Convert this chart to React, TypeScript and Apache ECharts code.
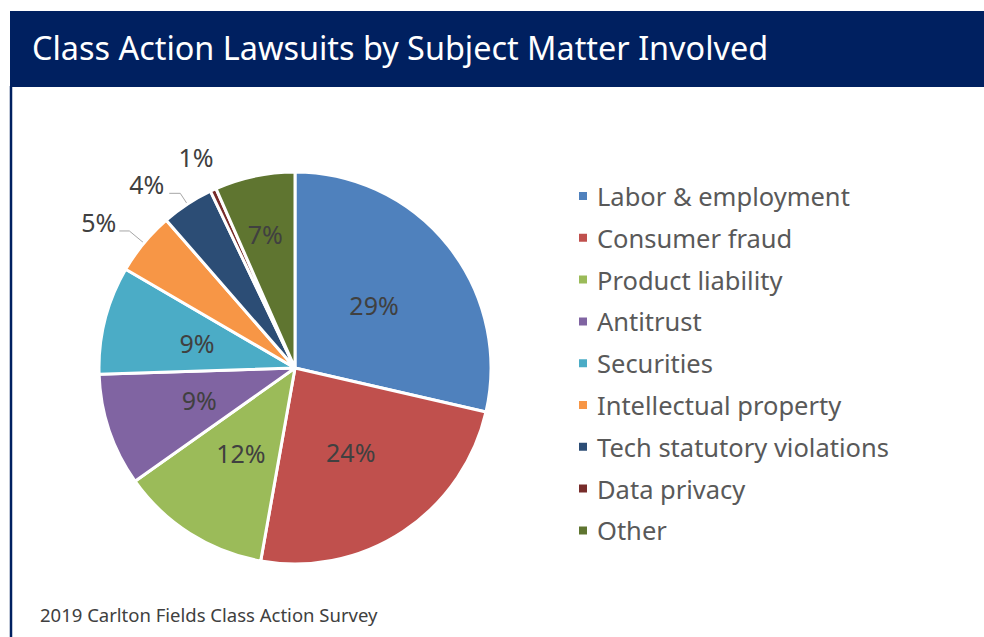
import React, { useEffect, useRef } from "react";
import * as echarts from "echarts";

const categories = [
  "Labor & employment",
  "Consumer fraud",
  "Product liability",
  "Antitrust",
  "Securities",
  "Intellectual property",
  "Tech statutory violations",
  "Data privacy",
  "Other",
];
// shares (labels show the rounded percentages)
const values = [28.6, 24.2, 12.4, 9.3, 8.9, 5.2, 4.3, 0.5, 6.6];
const colors = [
  "#4F81BD",
  "#C0504D",
  "#9BBB59",
  "#8064A2",
  "#4BACC6",
  "#F79646",
  "#2C4D75",
  "#772C2A",
  "#5F7530",
];
const titleText = "Class Action Lawsuits by Subject Matter Involved";
const sourceText = "2019 Carlton Fields Class Action Survey";

export default function App() {
  const ref = useRef<HTMLDivElement>(null);
  useEffect(() => {
    if (!ref.current) return;
    const chart = echarts.init(ref.current, null, { renderer: "svg" });
    const font = "'Noto Sans', sans-serif";
    const leader = { color: "#A6A6A6", width: 1 };
    const data = categories.map((name, i) => {
      const item: any = { name, value: values[i], itemStyle: { color: colors[i] } };
      if (name === "Intellectual property") {
        item.label = { position: "outside", distanceToLabelLine: 3, offset: [0, -9] };
        item.labelLine = { show: true, length: 19, length2: 10, lineStyle: leader };
      } else if (name === "Tech statutory violations") {
        item.label = { position: "outside", distanceToLabelLine: 5, offset: [0, -9] };
        item.labelLine = { show: true, length: 13, length2: 11, lineStyle: leader };
      } else if (name === "Data privacy") {
        item.label = { position: "outside", distanceToLabelLine: -14, offset: [0, -3] };
        item.labelLine = { show: false, length: 33, length2: 0 };
      } else if (name === "Other") {
        item.label = { offset: [-9, -35] };
      }
      return item;
    });
    chart.setOption({
      animation: false,
      backgroundColor: "#ffffff",
      graphic: [
        {
          type: "rect",
          shape: { x: 10, y: 11, width: 974, height: 76 },
          style: { fill: "#002060" },
          silent: true,
        },
        {
          type: "line",
          shape: { x1: 11, y1: 86, x2: 11, y2: 637 },
          style: { stroke: "#002060", lineWidth: 2.5 },
          silent: true,
        },
        {
          type: "text",
          x: 32,
          y: 47,
          style: {
            text: titleText,
            fill: "#ffffff",
            font: `32.4px ${font}`,
            textVerticalAlign: "middle",
          },
        },
        {
          type: "text",
          x: 40,
          y: 614,
          style: {
            text: sourceText,
            fill: "#404040",
            font: `18.5px ${font}`,
            textVerticalAlign: "middle",
          },
        },
      ],
      legend: {
        orient: "vertical",
        left: 572,
        top: 178,
        itemWidth: 10,
        itemHeight: 10,
        itemGap: 15.8,
        icon: "rect",
        data: categories,
        textStyle: {
          fontFamily: font,
          fontSize: 25.5,
          color: "#595959",
          padding: [0, 0, 0, 4],
        },
      },
      series: [
        {
          type: "pie",
          center: [295, 368],
          radius: [0, 196],
          startAngle: 90,
          clockwise: true,
          avoidLabelOverlap: false,
          itemStyle: { borderColor: "#ffffff", borderWidth: 3 },
          label: {
            show: true,
            position: "inside",
            formatter: (p: any) => Math.round(p.value) + "%",
            fontFamily: font,
            fontSize: 25,
            color: "#404040",
          },
          labelLine: { show: false },
          emphasis: { disabled: true },
          data,
        },
      ],
    });
    return () => chart.dispose();
  }, []);
  return (
    <div
      ref={ref}
      style={{ position: "fixed", left: 0, top: 0, width: 984, height: 637 }}
    />
  );
}
